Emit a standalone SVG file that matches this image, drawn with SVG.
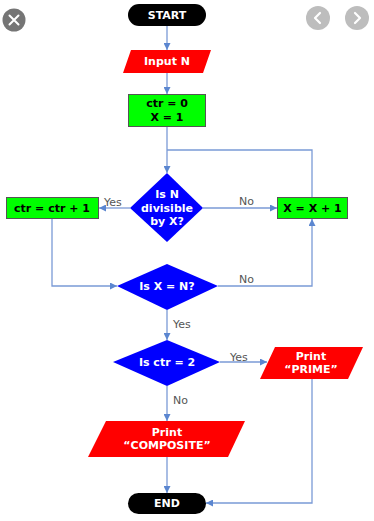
<svg xmlns="http://www.w3.org/2000/svg" width="374" height="521" viewBox="0 0 374 521">
<defs>
<marker id="ah" viewBox="0 0 8 8" refX="8" refY="4" markerWidth="7" markerHeight="7" markerUnits="userSpaceOnUse" orient="auto">
<path d="M0,0 L8,4 L0,8 z" fill="#5b86d0"/>
</marker>
</defs>
<style>
.t{font-family:"DejaVu Sans",Verdana,sans-serif;font-weight:bold;font-size:11px;text-anchor:middle;dominant-baseline:central}
.w{fill:#fff}
.k{fill:#000}
.lbl{font-family:"DejaVu Sans",Verdana,sans-serif;font-size:11px;fill:#555}
.c{fill:none;stroke:#7a9ad6;stroke-width:1.3}
.a{marker-end:url(#ah)}
.term{fill:#000}
.io{fill:#ff0000}
.proc{fill:#00ff00;stroke:#555;stroke-width:1}
.dec{fill:#0000ff}
</style>
<rect width="374" height="521" fill="#fff"/>
<g id="ui">
<circle cx="14" cy="20" r="11.5" fill="#757575"/>
<path d="M9.5,15.5 L18.5,24.5 M18.5,15.5 L9.5,24.5" stroke="#fff" stroke-width="2" stroke-linecap="round"/>
<circle cx="318" cy="18" r="12" fill="#bdbdbd"/>
<path d="M320,13 L315,18 L320,23" stroke="#fff" stroke-width="2.2" fill="none" stroke-linecap="round" stroke-linejoin="round"/>
<circle cx="357" cy="18" r="12" fill="#bdbdbd"/>
<path d="M355,13 L360,18 L355,23" stroke="#fff" stroke-width="2.2" fill="none" stroke-linecap="round" stroke-linejoin="round"/>
</g>
<g id="connectors">
<path class="c a" d="M167,26 V50"/>
<path class="c a" d="M167,73 V94"/>
<path class="c a" d="M167,127 V173"/>
<path class="c" d="M312,197 V150 H167"/>
<path class="c a" d="M130,208 H99"/>
<path class="c a" d="M203,208 H277"/>
<path class="c a" d="M52,219 V286 H117"/>
<path class="c a" d="M218,286 H312 V219"/>
<path class="c a" d="M167,310 V340"/>
<path class="c a" d="M220,362 H267"/>
<path class="c a" d="M167,386 V421"/>
<path class="c a" d="M167,457 V493"/>
<path class="c a" d="M312,379 V503 H206"/>
<text class="lbl" x="104" y="206">Yes</text>
<text class="lbl" x="239" y="205">No</text>
<text class="lbl" x="239" y="283">No</text>
<text class="lbl" x="173" y="328">Yes</text>
<text class="lbl" x="230" y="361">Yes</text>
<text class="lbl" x="173" y="404">No</text>
</g>
<g id="start">
<rect class="term" x="128" y="4" width="78" height="22" rx="11"/>
<text class="t w" x="167" y="15">START</text>
</g>
<g id="input">
<polygon class="io" points="131,50 211,50 203,73 123,73"/>
<text class="t w" x="167" y="61.5">Input N</text>
</g>
<g id="init">
<rect class="proc" x="128.5" y="94.5" width="77" height="32"/>
<text class="t k" x="167" y="103.5">ctr = 0</text>
<text class="t k" x="167" y="117">X = 1</text>
</g>
<g id="divisible">
<polygon class="dec" points="167,173 203,208 167,242 130,208"/>
<text class="t w" x="167" y="194">Is N</text>
<text class="t w" x="167" y="208">divisible</text>
<text class="t w" x="167" y="221.5">by X?</text>
</g>
<g id="incctr">
<rect class="proc" x="6.5" y="197.5" width="92" height="21"/>
<text class="t k" x="52" y="208">ctr = ctr + 1</text>
</g>
<g id="incx">
<rect class="proc" x="277.5" y="197.5" width="70" height="21"/>
<text class="t k" x="312.5" y="208">X = X + 1</text>
</g>
<g id="xeqn">
<polygon class="dec" points="167,264 218,286 167,310 117,286"/>
<text class="t w" x="167" y="286.5">Is X = N?</text>
</g>
<g id="ctr2">
<polygon class="dec" points="167,340 220,362 167,386 113,362"/>
<text class="t w" x="167" y="362.5">Is ctr = 2</text>
</g>
<g id="prime">
<polygon class="io" points="275,347 363,347 348,379 260,379"/>
<text class="t w" x="311" y="356">Print</text>
<text class="t w" x="311" y="369.5">“PRIME”</text>
</g>
<g id="composite">
<polygon class="io" points="106,421 245,421 228,457 88,457"/>
<text class="t w" x="167" y="432">Print</text>
<text class="t w" x="167" y="445.5">“COMPOSITE”</text>
</g>
<g id="end">
<rect class="term" x="128" y="493" width="78" height="21" rx="10.5"/>
<text class="t w" x="167" y="503.5">END</text>
</g>
</svg>
